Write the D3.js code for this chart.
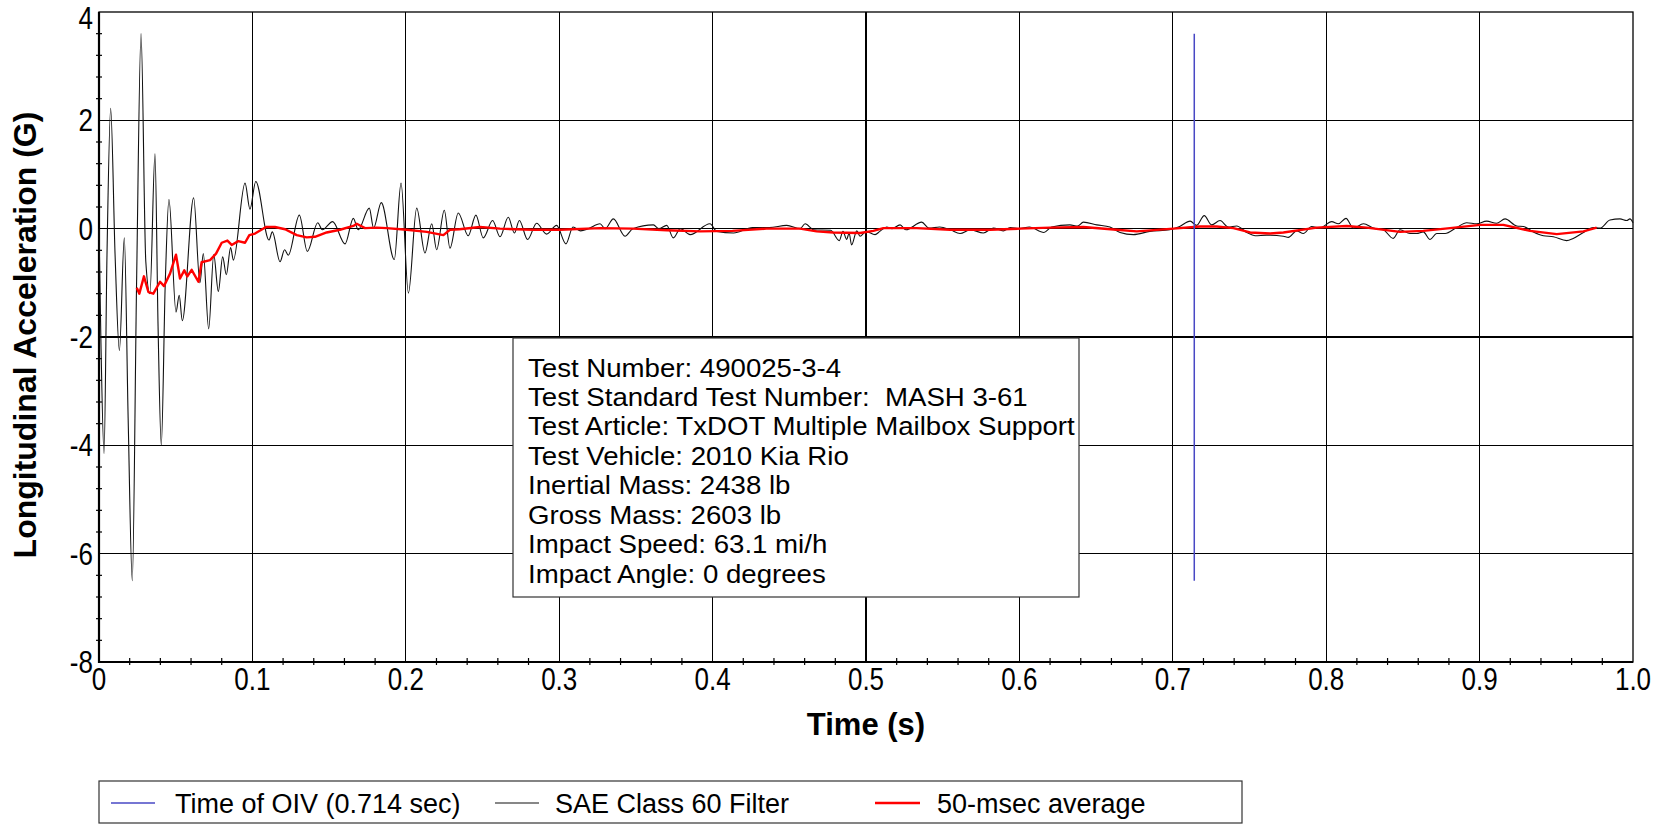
<!DOCTYPE html>
<html>
<head>
<meta charset="utf-8">
<script src="https://cdn.jsdelivr.net/npm/d3@7"></script>
<style>
  html, body { margin: 0; padding: 0; background: #fff; }
  svg { display: block; font-family: "Liberation Sans", Arial, sans-serif; }
  .pre { white-space: pre; }
</style>
</head>
<body>
<svg id="chart" width="1663" height="825"></svg>
<script>
// ---------------- DATA ----------------
const xTickValues = [0, 0.1, 0.2, 0.3, 0.4, 0.5, 0.6, 0.7, 0.8, 0.9, 1.0];
const xTickLabels = ["0", "0.1", "0.2", "0.3", "0.4", "0.5", "0.6", "0.7", "0.8", "0.9", "1.0"];
const yTickValues = [4, 2, 0, -2, -4, -6, -8];
const yTickLabels = ["4", "2", "0", "-2", "-4", "-6", "-8"];

const xTitle = "Time (s)";
const yTitle = "Longitudinal Acceleration (G)";

const oivTime = 0.714;
const oivRange = [-6.5, 3.6];

const legendLabels = ["Time of OIV (0.714 sec)", "SAE Class 60 Filter", "50-msec average"];

const infoLines = [
  "Test Number: 490025-3-4",
  "Test Standard Test Number:  MASH 3-61",
  "Test Article: TxDOT Multiple Mailbox Support",
  "Test Vehicle: 2010 Kia Rio",
  "Inertial Mass: 2438 lb",
  "Gross Mass: 2603 lb",
  "Impact Speed: 63.1 mi/h",
  "Impact Angle: 0 degrees"
];

// SAE Class 60 filtered acceleration [time (s), G]
const sae60 = [
  [0.0000, 0.00], [0.0012, -2.0], [0.0033, -4.15], [0.0052, -0.5], [0.0076, 2.22],
  [0.0105, -0.5], [0.0133, -2.25], [0.0165, -0.17], [0.0190, -3.5], [0.0217, -6.5],
  [0.0245, -1.0], [0.0274, 3.60], [0.0305, -0.6], [0.0332, -1.20], [0.0365, 1.38],
  [0.0385, -1.8], [0.0406, -4.00], [0.0432, -1.0], [0.0456, 0.54], [0.0502, -1.54],
  [0.0523, -1.23], [0.0543, -1.70], [0.0617, 0.57], [0.0658, -1.00], [0.0680, -0.46],
  [0.0715, -1.85], [0.0748, -0.48], [0.0778, -1.16], [0.0806, -0.52], [0.0830, -0.85],
  [0.0858, -0.35], [0.0876, -0.58], [0.0952, 0.84], [0.0984, 0.36], [0.1022, 0.87],
  [0.1108, -0.21], [0.1130, -0.06], [0.1180, -0.61], [0.1210, -0.39], [0.1234, -0.49],
  [0.1306, 0.25], [0.1358, -0.42], [0.1426, 0.11], [0.1456, -0.02], [0.1523, 0.13],
  [0.1604, -0.28], [0.1658, 0.19], [0.1690, -0.02], [0.1762, 0.38], [0.1790, 0.01],
  [0.1840, 0.48], [0.1925, -0.57], [0.1969, 0.84], [0.2017, -1.19], [0.2071, 0.38],
  [0.2125, -0.45], [0.2169, 0.09], [0.2201, -0.39], [0.2251, 0.34], [0.2288, -0.36],
  [0.2342, 0.29], [0.2407, -0.13], [0.2457, 0.25], [0.2505, -0.17], [0.2566, 0.15],
  [0.2614, -0.15], [0.2668, 0.21], [0.2708, -0.08], [0.2740, 0.15], [0.2794, -0.20],
  [0.2853, 0.10], [0.2918, -0.10], [0.2983, 0.06], [0.3044, -0.28], [0.3090, 0.03],
  [0.3140, -0.04], [0.3190, 0.00], [0.3266, 0.09], [0.3300, 0.00], [0.3353, 0.18],
  [0.3429, -0.14], [0.3480, 0.00], [0.3614, 0.07], [0.3650, 0.00], [0.3701, 0.06],
  [0.3744, -0.17], [0.3790, 0.00], [0.3853, -0.11], [0.3983, 0.09], [0.4027, -0.05],
  [0.4137, -0.08], [0.4260, 0.02], [0.4370, 0.02], [0.4483, 0.06], [0.4570, 0.00],
  [0.4603, 0.09], [0.4660, -0.02], [0.4770, -0.03], [0.4826, -0.22], [0.4850, -0.05],
  [0.4874, -0.20], [0.4890, -0.08], [0.4906, -0.30], [0.4940, -0.04], [0.4961, -0.14],
  [0.5000, -0.05], [0.5059, -0.11], [0.5090, -0.05], [0.5135, 0.03], [0.5170, 0.00],
  [0.5222, 0.07], [0.5260, -0.02], [0.5363, 0.12], [0.5410, 0.01], [0.5480, 0.03],
  [0.5550, -0.02], [0.5613, -0.09], [0.5680, -0.02], [0.5765, -0.08], [0.5830, 0.01],
  [0.5895, -0.04], [0.5940, 0.02], [0.6000, 0.00], [0.6065, 0.03], [0.6160, -0.07],
  [0.6210, 0.03], [0.6329, 0.07], [0.6380, 0.05], [0.6417, 0.12], [0.6505, 0.07],
  [0.6590, 0.03], [0.6656, -0.07], [0.6743, -0.11], [0.6850, -0.05], [0.6980, -0.02],
  [0.7045, 0.04], [0.7113, 0.14], [0.7155, 0.06], [0.7205, 0.24], [0.7253, 0.07],
  [0.7308, 0.15], [0.7362, 0.03], [0.7416, 0.05], [0.7482, -0.07], [0.7536, -0.13],
  [0.7612, -0.12], [0.7721, -0.14], [0.7753, -0.16], [0.7808, -0.04], [0.7851, -0.09],
  [0.7905, 0.04], [0.7958, 0.01], [0.8036, 0.13], [0.8079, 0.09], [0.8129, 0.19],
  [0.8177, 0.01], [0.8243, 0.09], [0.8307, 0.01], [0.8372, -0.02], [0.8437, -0.18],
  [0.8481, -0.02], [0.8546, -0.09], [0.8590, -0.09], [0.8633, -0.06], [0.8677, -0.20],
  [0.8720, -0.09], [0.8775, -0.09], [0.8850, 0.02], [0.8916, 0.11], [0.8981, 0.09],
  [0.9046, 0.14], [0.9111, 0.10], [0.9166, 0.18], [0.9242, 0.05], [0.9285, 0.04],
  [0.9350, -0.06], [0.9416, -0.13], [0.9481, -0.15], [0.9567, -0.22], [0.9610, -0.18],
  [0.9677, -0.07], [0.9741, 0.02], [0.9785, 0.01], [0.9850, 0.16], [0.9915, 0.18],
  [0.9959, 0.15], [0.9980, 0.18], [1.0000, 0.11]
];

// 50-msec moving average [time (s), G]
const avg50 = [
  [0.0246, -1.09], [0.0263, -1.20], [0.0293, -0.88], [0.0322, -1.17], [0.0354, -1.20],
  [0.0398, -0.98], [0.0424, -1.06], [0.0463, -0.83], [0.0502, -0.48], [0.0528, -0.92],
  [0.0556, -0.77], [0.0576, -0.88], [0.0604, -0.76], [0.0648, -0.98], [0.0669, -0.62],
  [0.0724, -0.58], [0.0763, -0.46], [0.0800, -0.26], [0.0837, -0.22], [0.0865, -0.30],
  [0.0908, -0.23], [0.0952, -0.26], [0.0980, -0.12], [0.1017, -0.09], [0.1089, 0.03],
  [0.1147, 0.03], [0.1213, -0.01], [0.1289, -0.12], [0.1354, -0.16], [0.1408, -0.15],
  [0.1484, -0.07], [0.1571, -0.02], [0.1658, 0.05], [0.1680, 0.09], [0.1734, 0.01],
  [0.1810, 0.02], [0.1875, 0.01], [0.2006, -0.02], [0.2137, -0.06], [0.2245, -0.12],
  [0.2288, -0.02], [0.2350, -0.01], [0.2484, 0.03], [0.2614, 0.00], [0.2830, -0.02],
  [0.3005, -0.02], [0.3266, 0.01], [0.3480, 0.00], [0.3701, -0.03], [0.3918, -0.05],
  [0.4130, -0.04], [0.4350, 0.00], [0.4570, 0.00], [0.4678, -0.05], [0.4787, -0.07],
  [0.4961, -0.08], [0.5048, -0.04], [0.5113, 0.01], [0.5330, 0.01], [0.5548, -0.02],
  [0.5808, -0.02], [0.6003, 0.00], [0.6200, 0.02], [0.6417, 0.03], [0.6634, -0.02],
  [0.6765, -0.05], [0.7003, 0.00], [0.7177, 0.04], [0.7286, 0.04], [0.7395, 0.01],
  [0.7504, -0.07], [0.7634, -0.09], [0.7721, -0.07], [0.7938, 0.02], [0.8133, 0.05],
  [0.8264, 0.02], [0.8481, -0.06], [0.8633, -0.04], [0.8807, 0.01], [0.9003, 0.07],
  [0.9155, 0.07], [0.9329, -0.04], [0.9503, -0.10], [0.9677, -0.05], [0.9763, 0.02]
];

// ---------------- DRAW ----------------
const svg = d3.select("#chart");
const plot = { left: 99, right: 1633, top: 12, bottom: 662 };
const x = d3.scaleLinear().domain([0, 1]).range([plot.left, plot.right]);
const y = d3.scaleLinear().domain([-8, 4]).range([plot.bottom, plot.top]);

const FONT = '"Liberation Sans", Arial, sans-serif';

// gridlines
const grid = svg.append("g");
grid.selectAll("line.vx").data(xTickValues.slice(1, -1)).join("line")
  .attr("x1", d => x(d)).attr("x2", d => x(d))
  .attr("y1", y(4)).attr("y2", y(-8))
  .attr("stroke", "#000").attr("stroke-width", 1.1).attr("shape-rendering", "crispEdges");
grid.selectAll("line.hy").data(yTickValues.slice(1, -1)).join("line")
  .attr("x1", x(0)).attr("x2", x(1))
  .attr("y1", d => y(d)).attr("y2", d => y(d))
  .attr("stroke", "#000").attr("stroke-width", 1.1).attr("shape-rendering", "crispEdges");

// minor ticks
const xMinor = d3.range(1, 50).map(i => i * 0.02).filter(v => Math.abs(v * 10 - Math.round(v * 10)) > 1e-6);
svg.append("g").selectAll("line").data(xMinor).join("line")
  .attr("x1", d => x(d)).attr("x2", d => x(d))
  .attr("y1", y(-8) - 4).attr("y2", y(-8) + 3)
  .attr("stroke", "#000").attr("stroke-width", 1.2);
const yMinor = d3.range(0, 31).map(i => -8 + i * 0.4).filter(v => Math.abs(v / 2 - Math.round(v / 2)) > 1e-6);
svg.append("g").selectAll("line").data(yMinor).join("line")
  .attr("x1", x(0) - 3).attr("x2", x(0) + 3)
  .attr("y1", d => y(d)).attr("y2", d => y(d))
  .attr("stroke", "#000").attr("stroke-width", 1.2);

// frame
svg.append("rect").attr("x", x(0)).attr("y", y(4))
  .attr("width", x(1) - x(0)).attr("height", y(-8) - y(4))
  .attr("fill", "none").attr("stroke", "#000").attr("stroke-width", 1.3);
svg.append("line").attr("x1", x(0)).attr("x2", x(0)).attr("y1", y(4)).attr("y2", y(-8) + 1)
  .attr("stroke", "#000").attr("stroke-width", 2.2);
svg.append("line").attr("x1", x(0) - 1).attr("x2", x(1)).attr("y1", y(-8)).attr("y2", y(-8))
  .attr("stroke", "#000").attr("stroke-width", 2.2);

// curves
const lineBlack = d3.line().x(d => x(d[0])).y(d => y(d[1])).curve(d3.curveMonotoneX);
const lineRed = d3.line().x(d => x(d[0])).y(d => y(d[1])).curve(d3.curveLinear);

svg.append("path").datum(sae60).attr("d", lineBlack)
  .attr("fill", "none").attr("stroke", "#111").attr("stroke-width", 1.1);
svg.append("path").datum(avg50).attr("d", lineRed)
  .attr("fill", "none").attr("stroke", "#ff0000").attr("stroke-width", 2.4)
  .attr("stroke-linejoin", "round");

// OIV line
svg.append("line")
  .attr("x1", x(oivTime)).attr("x2", x(oivTime))
  .attr("y1", y(oivRange[1])).attr("y2", y(oivRange[0]))
  .attr("stroke", "#4848c4").attr("stroke-width", 1.5);

// tick labels
const tickScaleY = 1.22;
svg.append("g").selectAll("text").data(xTickValues).join("text")
  .attr("transform", d => `translate(${x(d)},${y(-8) + 17}) scale(1,${tickScaleY})`)
  .attr("text-anchor", "middle").attr("dy", "0.35em")
  .attr("font-size", 26).attr("font-family", FONT).attr("fill", "#000")
  .text((d, i) => xTickLabels[i]);
svg.append("g").selectAll("text").data(yTickValues).join("text")
  .attr("transform", d => `translate(${x(0) - 6},${Math.max(y(d), 18)}) scale(1,${tickScaleY})`)
  .attr("text-anchor", "end").attr("dy", "0.35em")
  .attr("font-size", 26).attr("font-family", FONT).attr("fill", "#000")
  .text((d, i) => yTickLabels[i]);

// axis titles
svg.append("text")
  .attr("x", (plot.left + plot.right) / 2).attr("y", 735)
  .attr("text-anchor", "middle").attr("font-size", 31).attr("font-weight", "bold")
  .attr("font-family", FONT).text(xTitle);
svg.append("text")
  .attr("transform", `translate(36,${(plot.top + plot.bottom) / 2 - 2}) rotate(-90)`)
  .attr("text-anchor", "middle").attr("font-size", 32).attr("font-weight", "bold")
  .attr("font-family", FONT).text(yTitle);

// info box
const box = { x: 513, y: 338, w: 566, h: 259 };
svg.append("rect").attr("x", box.x).attr("y", box.y).attr("width", box.w).attr("height", box.h)
  .attr("fill", "#fff").attr("stroke", "#333").attr("stroke-width", 1.2);
const info = svg.append("g").attr("transform", `translate(${box.x + 15},${box.y + 38.5}) scale(1.105,1)`);
info.selectAll("text").data(infoLines).join("text")
  .attr("class", "pre")
  .attr("x", 0).attr("y", (d, i) => i * 29.5)
  .attr("font-size", 25).attr("font-family", FONT).attr("fill", "#000")
  .text(d => d);

// legend
const leg = { x: 99, y: 781, w: 1143, h: 42 };
svg.append("rect").attr("x", leg.x).attr("y", leg.y).attr("width", leg.w).attr("height", leg.h)
  .attr("fill", "#fff").attr("stroke", "#333").attr("stroke-width", 1.2);
const legendItems = [
  { label: legendLabels[0], color: "#4848c4", width: 1.5, x0: 111, x1: 155, tx: 175 },
  { label: legendLabels[1], color: "#111", width: 1.2, x0: 495, x1: 539, tx: 555 },
  { label: legendLabels[2], color: "#ff0000", width: 2.6, x0: 875, x1: 920, tx: 937 }
];
const li = svg.append("g").selectAll("g").data(legendItems).join("g");
li.append("line").attr("x1", d => d.x0).attr("x2", d => d.x1)
  .attr("y1", 803).attr("y2", 803)
  .attr("stroke", d => d.color).attr("stroke-width", d => d.width);
li.append("text").attr("x", d => d.tx).attr("y", 813)
  .attr("font-size", 27).attr("font-family", FONT).attr("fill", "#000")
  .text(d => d.label);
</script>
</body>
</html>
